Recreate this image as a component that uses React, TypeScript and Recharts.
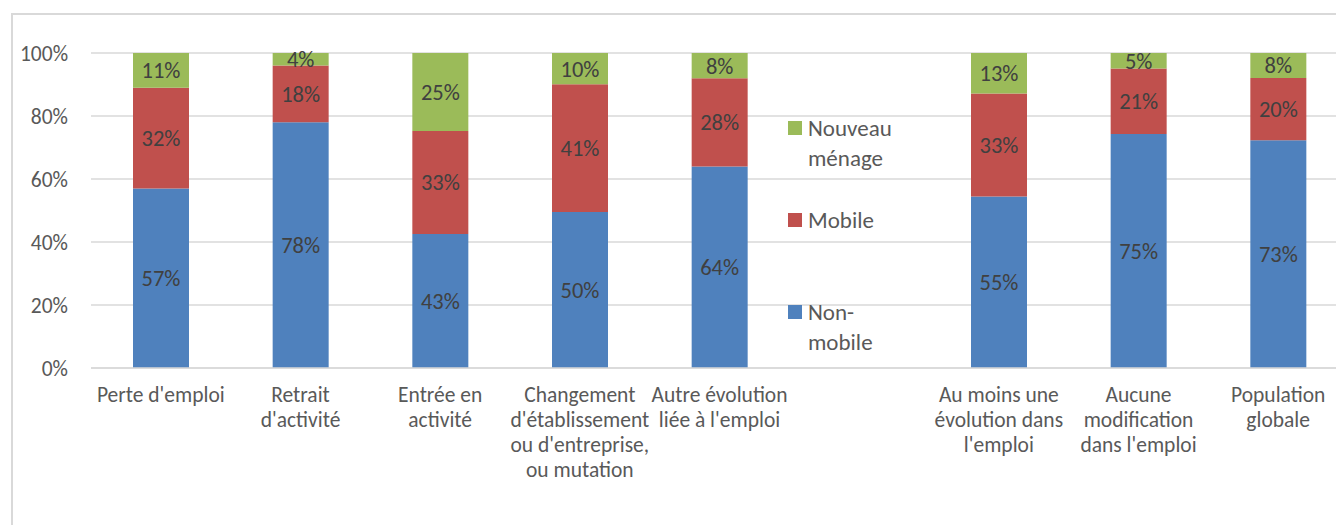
import { BarChart, Bar, XAxis, YAxis, CartesianGrid, LabelList, Legend } from 'recharts';

const categories: string[][] = [
  ["Perte d'emploi"],
  ['Retrait', "d'activité"],
  ['Entrée en', 'activité'],
  ['Changement', "d'établissement", "ou d'entreprise,", 'ou mutation'],
  ['Autre évolution', "liée à l'emploi"],
  [],
  ['Au moins une', 'évolution dans', "l'emploi"],
  ['Aucune', 'modification', "dans l'emploi"],
  ['Population', 'globale'],
];

const nonMobile = [57, 78, 43, 50, 64, null, 55, 75, 73];
const mobile = [32, 18, 33, 41, 28, null, 33, 21, 20];
const nouveauMenage = [11, 4, 25, 10, 8, null, 13, 5, 8];

const yTicks = [0, 0.2, 0.4, 0.6, 0.8, 1];

const series = [
  { key: 'nouveauMenage', label: ['Nouveau', 'ménage'], color: '#9BBB59' },
  { key: 'mobile', label: ['Mobile'], color: '#C0504D' },
  { key: 'nonMobile', label: ['Non-', 'mobile'], color: '#4F81BD' },
];

const data = categories.map((lines, i) => ({
  name: lines.length ? lines.join(' ') : ' ',
  nonMobile: nonMobile[i],
  mobile: mobile[i],
  nouveauMenage: nouveauMenage[i],
}));

const FONT = 'Carlito, Calibri, Lato, sans-serif';
const AXIS_COLOR = '#595959';
const LABEL_COLOR = '#404040';
const FONT_SIZE = 21.5;

const pct = (v: any) => (v === null || v === undefined || v === 0 ? '' : `${v}%`);

const XTick = (props: any) => {
  const { x, y, payload } = props;
  const lines = categories[payload.index] || [];
  return (
    <text x={x} y={y + 26} textAnchor="middle" fill={AXIS_COLOR} fontSize={FONT_SIZE} fontFamily={FONT}>
      {lines.map((l, i) => (
        <tspan key={i} x={x} dy={i === 0 ? 0 : 25}>
          {l}
        </tspan>
      ))}
    </text>
  );
};

const LegendBox = () => (
  <div style={{ position: 'relative', width: 150, height: 280, fontFamily: FONT, fontSize: 23, color: AXIS_COLOR }}>
    {series.map((s, i) => (
      <div key={s.key} style={{ position: 'absolute', left: 0, top: i * 92, display: 'flex', lineHeight: '30px' }}>
        <div style={{ width: 14, height: 14, background: s.color, marginTop: 8, marginRight: 6 }} />
        <div>
          {s.label.map((l, j) => (
            <div key={j}>{l}</div>
          ))}
        </div>
      </div>
    ))}
  </div>
);

export default function App() {
  return (
    <div style={{ position: 'absolute', left: 0, top: 0, width: 1336, height: 525, overflow: 'hidden', background: '#fff' }}>
      <div
        style={{
          position: 'absolute',
          left: 11,
          top: 13,
          width: 1400,
          height: 600,
          border: '2px solid #d9d9d9',
        }}
      />
      <div style={{ position: 'absolute', left: 0, top: 0 }}>
        <BarChart
          width={1400}
          height={525}
          data={data}
          stackOffset="expand"
          margin={{ top: 53, right: 52, bottom: 37, left: 0 }}
        >
          <CartesianGrid vertical={false} stroke="#d9d9d9" strokeWidth={1.5} />
          <XAxis
            dataKey="name"
            interval={0}
            tickLine={false}
            axisLine={{ stroke: '#d9d9d9', strokeWidth: 1.5 }}
            height={120}
            tick={<XTick />}
          />
          <YAxis
            width={91}
            domain={[0, 1]}
            ticks={yTicks}
            tickFormatter={(v: number) => `${Math.round(v * 100)}%`}
            axisLine={false}
            tickLine={false}
            tickSize={0}
            tickMargin={23}
            tick={{ fill: AXIS_COLOR, fontSize: FONT_SIZE, fontFamily: FONT }}
          />
          <Legend
            layout="vertical"
            align="center"
            verticalAlign="middle"
            content={<LegendBox />}
            wrapperStyle={{ left: 788, top: 113, width: 150 }}
          />
          {[...series].reverse().map((s) => (
            <Bar key={s.key} dataKey={s.key} stackId="a" fill={s.color} barSize={56} isAnimationActive={false}>
              <LabelList
                dataKey={s.key}
                position="center"
                formatter={pct}
                fill={LABEL_COLOR}
                fontSize={22.5}
                fontFamily={FONT}
              />
            </Bar>
          ))}
        </BarChart>
      </div>
    </div>
  );
}
